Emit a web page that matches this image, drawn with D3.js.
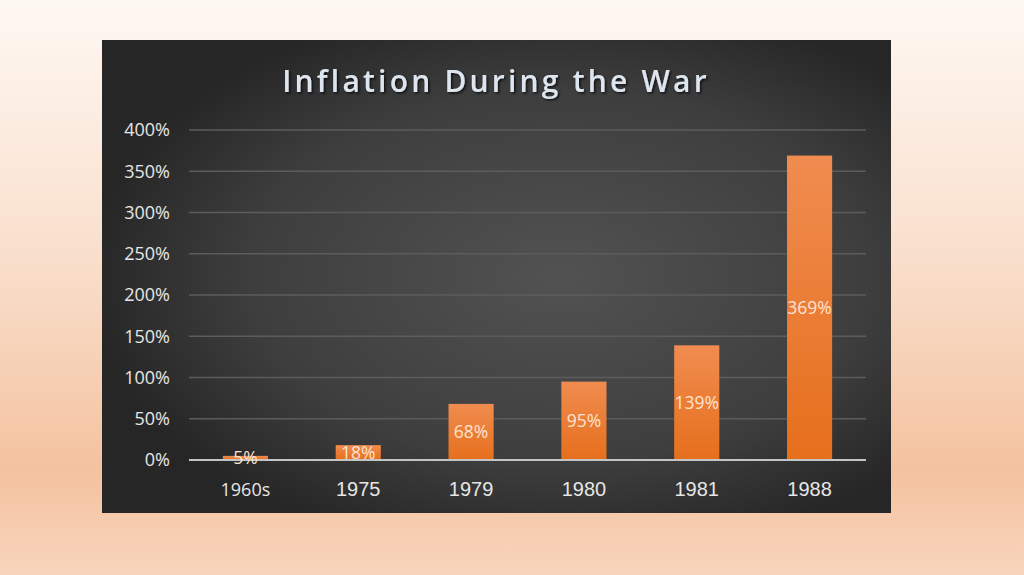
<!DOCTYPE html>
<html>
<head>
<meta charset="utf-8">
<script src="https://cdn.jsdelivr.net/npm/d3@7"></script>
<style>
  html, body { margin: 0; padding: 0; overflow: hidden; }
</style>
</head>
<body>
<div id="chart"></div>
<script>
const years = ['1960s', '1975', '1979', '1980', '1981', '1988']
const inflation = [5, 18, 68, 95, 139, 369]
const yTicks = [0, 50, 100, 150, 200, 250, 300, 350, 400]

const W = 1024
const H = 575

const panel = { x: 102, y: 40, w: 789, h: 473 }
const margin = { top: 130, left: 189, right: 158, bottom: 115 }

const svg = d3
  .select('#chart')
  .append('svg')
  .attr('width', W)
  .attr('height', H)

const defs = svg.append('defs')

// slide background
const bg = defs.append('linearGradient').attr('id', 'bg').attr('x1', 0).attr('y1', 0).attr('x2', 0).attr('y2', 1)
bg.append('stop').attr('offset', '0%').attr('stop-color', '#fef8f3')
bg.append('stop').attr('offset', '45%').attr('stop-color', '#f9dfcc')
bg.append('stop').attr('offset', '82%').attr('stop-color', '#f4c29f')
bg.append('stop').attr('offset', '100%').attr('stop-color', '#f8d5bd')

// dark chart panel
const pg = defs.append('radialGradient').attr('id', 'panel')
  .attr('cx', '58%').attr('cy', '50%').attr('r', '60%')
pg.append('stop').attr('offset', '0%').attr('stop-color', '#525252')
pg.append('stop').attr('offset', '65%').attr('stop-color', '#3e3e3e')
pg.append('stop').attr('offset', '100%').attr('stop-color', '#262626')

const barGrad = defs.append('linearGradient').attr('id', 'bar').attr('x1', 0).attr('y1', 0).attr('x2', 0).attr('y2', 1)
barGrad.append('stop').attr('offset', '0%').attr('stop-color', '#f08c50')
barGrad.append('stop').attr('offset', '100%').attr('stop-color', '#e66f1c')

const shadow = defs.append('filter').attr('id', 'shadow')
shadow.append('feDropShadow').attr('dx', 1.5).attr('dy', 1.5).attr('stdDeviation', 1)
  .attr('flood-color', '#000').attr('flood-opacity', 0.7)

svg.append('rect').attr('width', W).attr('height', H).attr('fill', 'url(#bg)')

svg.append('rect')
  .attr('x', panel.x).attr('y', panel.y)
  .attr('width', panel.w).attr('height', panel.h)
  .attr('fill', 'url(#panel)')

svg.append('text')
  .text('Inflation During the War')
  .attr('x', 496)
  .attr('y', 92)
  .attr('text-anchor', 'middle')
  .attr('font-family', 'Open Sans, sans-serif')
  .attr('font-weight', 600)
  .attr('font-size', 30)
  .attr('letter-spacing', 3.2)
  .attr('fill', '#dde6ef')
  .attr('filter', 'url(#shadow)')

const x = d3.scaleBand()
  .domain(years)
  .range([margin.left, W - margin.right])
  .paddingInner(0.6)
  .paddingOuter(0.3)

const y = d3.scaleLinear()
  .domain([0, 400])
  .range([H - margin.bottom, margin.top])

// grid lines
svg.append('g')
  .selectAll('line')
  .data(yTicks.filter(d => d > 0))
  .enter()
  .append('line')
  .attr('x1', margin.left)
  .attr('x2', W - margin.right)
  .attr('y1', d => y(d))
  .attr('y2', d => y(d))
  .attr('stroke', '#5c5c5c')
  .attr('stroke-width', 1.5)

// y tick labels
svg.append('g')
  .selectAll('text')
  .data(yTicks)
  .enter()
  .append('text')
  .text(d => d + '%')
  .attr('x', 170)
  .attr('y', d => y(d))
  .attr('dy', '0.35em')
  .attr('text-anchor', 'end')
  .attr('font-family', 'Open Sans, sans-serif')
  .attr('font-size', 18)
  .attr('fill', '#e6e6e6')

// bars
svg.append('g')
  .selectAll('rect')
  .data(inflation)
  .enter()
  .append('rect')
  .attr('x', (d, i) => x(years[i]))
  .attr('y', d => y(d))
  .attr('width', x.bandwidth())
  .attr('height', d => y(0) - y(d))
  .attr('fill', 'url(#bar)')

// baseline
svg.append('line')
  .attr('x1', margin.left)
  .attr('x2', W - margin.right)
  .attr('y1', y(0))
  .attr('y2', y(0))
  .attr('stroke', '#c4c4c4')
  .attr('stroke-width', 2)

// value labels, centred in the bar
svg.append('g')
  .selectAll('text')
  .data(inflation)
  .enter()
  .append('text')
  .text(d => d + '%')
  .attr('x', (d, i) => x(years[i]) + x.bandwidth() / 2)
  .attr('y', d => (y(d) + y(0)) / 2)
  .attr('dy', '0.35em')
  .attr('text-anchor', 'middle')
  .attr('font-family', 'Open Sans, sans-serif')
  .attr('font-size', 17.5)
  .attr('fill', '#fde3d0')

// category labels
svg.append('g')
  .selectAll('text')
  .data(years)
  .enter()
  .append('text')
  .text(d => d)
  .attr('x', d => x(d) + x.bandwidth() / 2)
  .attr('y', 496)
  .attr('text-anchor', 'middle')
  .attr('font-family', d => (d === '1960s' ? 'Open Sans, sans-serif' : 'Liberation Sans, Arial, sans-serif'))
  .attr('font-size', d => (d === '1960s' ? 18 : 20))
  .attr('fill', '#e6e6e6')
</script>
</body>
</html>
